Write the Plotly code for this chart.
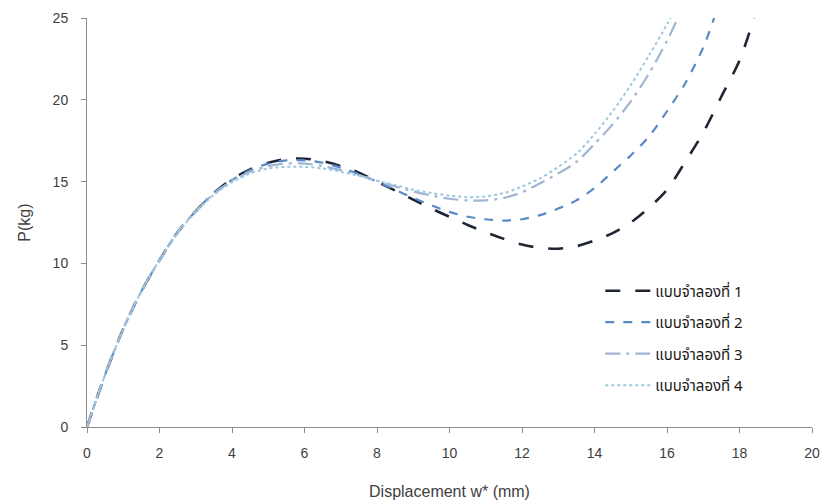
import plotly.graph_objects as go

# Displacement (mm) vs load P (kg) for four models
x1 = [0, 0.5, 1, 1.5, 2, 2.5, 3, 3.5, 4, 4.5, 5, 5.5, 6, 6.5, 7, 7.5, 8, 8.5, 9, 9.5,
      10, 10.5, 11, 11.5, 12, 12.5, 13, 13.5, 14, 14.5, 15, 15.5, 16, 16.5, 17, 17.5, 18, 18.4]
p1 = [0, 3.2, 6.0, 8.3, 10.2, 11.9, 13.2, 14.3, 15.15, 15.75, 16.15, 16.38, 16.4, 16.25,
      15.95, 15.55, 15.0, 14.45, 13.9, 13.35, 12.85, 12.35, 11.9, 11.5, 11.15, 10.95, 10.9,
      11.05, 11.4, 11.85, 12.5, 13.4, 14.5, 16.2, 18.0, 20.2, 22.4, 25.0]

x2 = [0, 0.5, 1, 1.5, 2, 2.5, 3, 3.5, 4, 4.5, 5, 5.5, 6, 6.5, 7, 7.5, 8, 8.5, 9, 9.5,
      10, 10.5, 11, 11.5, 12, 12.5, 13, 13.5, 14, 14.5, 15, 15.5, 16, 16.5, 17, 17.3]
p2 = [0, 3.2, 6.0, 8.3, 10.2, 11.9, 13.2, 14.3, 15.1, 15.7, 16.1, 16.3, 16.3, 16.15,
      15.85, 15.45, 15.0, 14.5, 14.0, 13.55, 13.15, 12.85, 12.7, 12.62, 12.7, 12.95, 13.35,
      13.85, 14.6, 15.6, 16.6, 17.75, 19.3, 21.0, 23.2, 25.0]

x3 = [0, 0.5, 1, 1.5, 2, 2.5, 3, 3.5, 4, 4.5, 5, 5.5, 6, 6.5, 7, 7.5, 8, 8.5, 9, 9.5,
      10, 10.5, 11, 11.5, 12, 12.5, 13, 13.5, 14, 14.5, 15, 15.5, 16, 16.3]
p3 = [0, 3.2, 6.0, 8.3, 10.2, 11.9, 13.2, 14.25, 15.05, 15.6, 15.95, 16.1, 16.1, 15.95,
      15.7, 15.4, 15.05, 14.7, 14.4, 14.15, 13.95, 13.85, 13.85, 14.0, 14.35, 14.9, 15.5,
      16.2, 17.3, 18.5, 19.9, 21.6, 23.6, 25.0]

x4 = [0, 0.5, 1, 1.5, 2, 2.5, 3, 3.5, 4, 4.5, 5, 5.5, 6, 6.5, 7, 7.5, 8, 8.5, 9, 9.5,
      10, 10.5, 11, 11.5, 12, 12.5, 13, 13.5, 14, 14.5, 15, 15.5, 16, 16.1]
p4 = [0, 3.2, 6.0, 8.3, 10.2, 11.85, 13.15, 14.2, 14.95, 15.5, 15.8, 15.9, 15.9, 15.8,
      15.6, 15.35, 15.05, 14.8, 14.5, 14.3, 14.15, 14.05, 14.1, 14.3, 14.7, 15.2, 15.9,
      16.7, 17.9, 19.3, 20.9, 22.7, 24.6, 25.0]

names = ["แบบจำลองที่ 1", "แบบจำลองที่ 2", "แบบจำลองที่ 3", "แบบจำลองที่ 4"]
x_ticks = [0, 2, 4, 6, 8, 10, 12, 14, 16, 18, 20]
y_ticks = [0, 5, 10, 15, 20, 25]

styles = [
    dict(color="#1f2633", dash="longdash", width=2.6),
    dict(color="#5a8ac6", dash="dash", width=2.2),
    dict(color="#9fb5d3", dash="longdashdot", width=2.2),
    dict(color="#9cc8e0", dash="dot", width=2.0),
]

fig = go.Figure()
for i, (xs, ps, name, st) in enumerate(zip([x1, x2, x3, x4], [p1, p2, p3, p4], names, styles)):
    fig.add_trace(go.Scatter(
        x=xs, y=ps, mode="lines", name=name, legendgroup=f"m{i}",
        line=dict(shape="spline", smoothing=0.8, **st),
    ))

axis_font = dict(family="Liberation Sans", size=14, color="#404040")
title_font = dict(family="Liberation Sans", size=16, color="#404040")

fig.update_layout(
    width=826, height=504,
    margin=dict(l=87, r=14, t=18, b=77),
    paper_bgcolor="white", plot_bgcolor="white",
    showlegend=True,
    legend=dict(
        x=0.708, y=0.373, xanchor="left", yanchor="top",
        font=dict(family="Noto Sans Thai, Noto Sans, Liberation Sans", size=15, color="#1a1a1a"),
        bgcolor="rgba(0,0,0,0)", tracegroupgap=9, itemwidth=45,
    ),
    xaxis=dict(
        range=[0, 20], tickvals=x_ticks, ticktext=[str(v) for v in x_ticks],
        showgrid=False, zeroline=False, showline=True, linecolor="#8c8c8c", linewidth=1,
        ticks="outside", ticklen=5, tickcolor="#8c8c8c", tickfont=axis_font,
        ticklabelstandoff=8, automargin=False,
        title=dict(text="Displacement w* (mm)", font=title_font, standoff=26),
    ),
    yaxis=dict(
        range=[0, 25], tickvals=y_ticks, ticktext=[str(v) for v in y_ticks],
        showgrid=False, zeroline=False, showline=True, linecolor="#8c8c8c", linewidth=1,
        ticks="outside", ticklen=5, tickcolor="#8c8c8c", tickfont=axis_font,
        ticklabelstandoff=10, automargin=False,
        title=dict(text="P(kg)", font=title_font, standoff=18),
    ),
)

fig.write_html("out.html")
